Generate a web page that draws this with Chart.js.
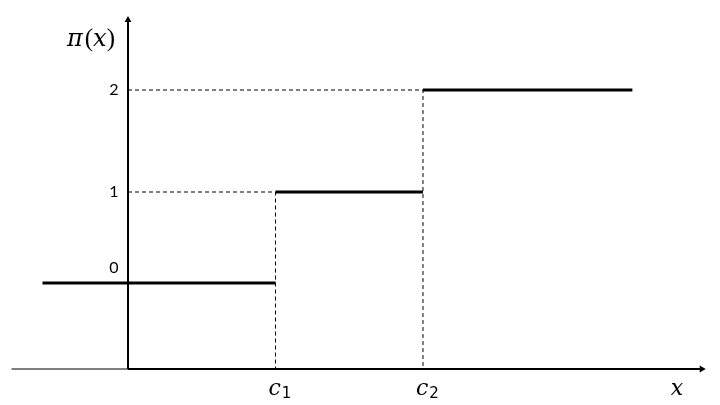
<!DOCTYPE html>
<html><head><meta charset="utf-8">
<script src="https://cdn.jsdelivr.net/npm/chart.js@4"></script>
<style>html,body{margin:0;padding:0;background:#fff}#w{width:720px;height:405px;position:relative}</style>
</head><body><div id="w"><canvas id="c"></canvas></div>
<script>
// Step function pi(x): breakpoints c1, c2 and level values
const breakpoints = [1, 2];            // c1, c2 positions on x
const breakSubscripts = ['1', '2'];    // c subscripts
const levelHeights = [0.86, 1.77, 2.79]; // drawn heights of the three levels
const levelLabels = ['0', '1', '2'];   // tick labels of the levels
const stepStarts = [-0.58, 1, 2];
const stepEnds = [1, 2, 3.42];
const xAxisRange = [-0.79, 3.89];
const yAxisTop = 3.49;
const yAxisLabel = ['π', '(', 'x', ')'];
const xAxisLabel = 'x';

const datasets = [];
// solid step segments
for (let i = 0; i < levelHeights.length; i++) {
  datasets.push({
    data: [{x: stepStarts[i], y: levelHeights[i]}, {x: stepEnds[i], y: levelHeights[i]}],
    borderColor: '#000', borderWidth: 3, pointRadius: 0, clip: false, borderCapStyle: 'butt'
  });
}
// dashed guide lines
for (let i = 1; i < levelHeights.length; i++) {
  const c = breakpoints[i - 1];
  datasets.push({
    data: [{x: 0, y: levelHeights[i]}, {x: c, y: levelHeights[i]}, {x: c, y: 0}],
    borderColor: '#000', borderWidth: 1, borderDash: [4, 3], pointRadius: 0, clip: false
  });
}
// x axis (thin left part, thick right part with arrow)
datasets.push({
  data: [{x: xAxisRange[0], y: 0}, {x: 0, y: 0}],
  borderColor: '#000', borderWidth: 1.2, pointRadius: 0, clip: false
});
datasets.push({
  data: [{x: 0, y: 0}, {x: xAxisRange[1], y: 0}],
  borderColor: '#000', borderWidth: 2, clip: false,
  pointRadius: [0, 4], pointStyle: 'triangle', rotation: 90,
  pointBackgroundColor: '#000', pointBorderColor: '#000', pointBorderWidth: 0
});
// y axis with arrow
datasets.push({
  data: [{x: 0, y: 0}, {x: 0, y: yAxisTop}],
  borderColor: '#000', borderWidth: 2, clip: false,
  pointRadius: [0, 4], pointStyle: 'triangle', rotation: 0,
  pointBackgroundColor: '#000', pointBorderColor: '#000', pointBorderWidth: 0
});

const labelsPlugin = {
  id: 'labels',
  afterDraw(chart) {
    const ctx = chart.ctx;
    const xs = chart.scales.x, ys = chart.scales.y;
    const x0 = xs.getPixelForValue(0);
    ctx.save();
    ctx.fillStyle = '#000';
    // level tick labels
    ctx.font = '16px Lato';
    ctx.textAlign = 'center';
    ctx.textBaseline = 'middle';
    for (let i = 0; i < levelLabels.length; i++) {
      const py = ys.getPixelForValue(levelHeights[i]);
      const dy = i === 0 ? -15 : 0;
      ctx.fillText(levelLabels[i], x0 - 14, py + dy);
    }
    // y axis label π(x)
    ctx.textAlign = 'left';
    ctx.textBaseline = 'alphabetic';
    let px = x0 - 61;
    const by = ys.getPixelForValue(yAxisTop) + 26;
    yAxisLabel.forEach((s, k) => {
      ctx.font = k % 2 === 0 ? 'italic 24px "DejaVu Serif"' : '25px "Liberation Serif"';
      ctx.fillText(s, px, by);
      px += ctx.measureText(s).width + (k === 0 ? 2 : 0);
    });
    // breakpoint labels c1, c2
    const cy = ys.getPixelForValue(0) + 26;
    for (let i = 0; i < breakpoints.length; i++) {
      const cx = xs.getPixelForValue(breakpoints[i]);
      ctx.font = 'italic 22px "DejaVu Serif"';
      const w = ctx.measureText('c').width;
      ctx.fillText('c', cx - 7, cy);
      ctx.font = '15px "DejaVu Sans"';
      ctx.fillText(breakSubscripts[i], cx - 6 + w, cy + 3);
    }
    // x axis label
    ctx.font = 'italic 22px "DejaVu Serif"';
    ctx.fillText(xAxisLabel, xs.getPixelForValue(xAxisRange[1]) - 31, cy);
    ctx.restore();
  }
};

new Chart(document.getElementById('c'), {
  type: 'scatter',
  data: { datasets: datasets.map(d => Object.assign({showLine: true, fill: false, tension: 0}, d)) },
  options: {
    responsive: true, maintainAspectRatio: false, animation: false,
    layout: { padding: 0, autoPadding: false },
    plugins: { legend: { display: false }, tooltip: { enabled: false } },
    scales: {
      x: { type: 'linear', min: -0.868, max: 4.014, display: false },
      y: { type: 'linear', min: -0.36, max: 3.69, display: false }
    }
  },
  plugins: [labelsPlugin]
});
</script>
</body></html>
